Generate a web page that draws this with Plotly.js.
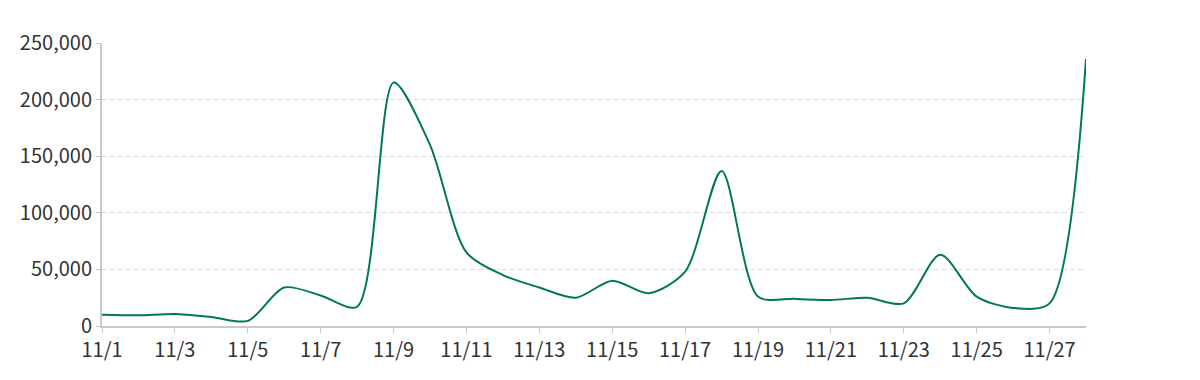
<!DOCTYPE html>
<html>
<head>
<meta charset="utf-8">
<script src="https://cdn.plot.ly/plotly-3.0.1.min.js"></script>
<style>
html,body{margin:0;padding:0;background:#fff;}
#chart{width:1200px;height:380px;}
</style>
</head>
<body>
<div id="chart"></div>
<script>
const dates = ['11/1','11/2','11/3','11/4','11/5','11/6','11/7','11/8','11/9','11/10',
  '11/11','11/12','11/13','11/14','11/15','11/16','11/17','11/18','11/19','11/20',
  '11/21','11/22','11/23','11/24','11/25','11/26','11/27','11/28'];
const values = [10000, 9500, 10600, 8000, 4500, 34000, 27000, 17000, 215000, 160000,
  65000, 45000, 34000, 25000, 40000, 29000, 48000, 137000, 26000, 24000,
  23000, 25000, 20000, 63000, 26000, 16000, 20000, 236000];
const tickLabels = dates.filter((d, i) => i % 2 === 0);
const yTicks = [0, 50000, 100000, 150000, 200000, 250000];

const trace = {
  x: dates,
  y: values,
  type: 'scatter',
  mode: 'lines',
  line: {color: '#00775f', width: 2, shape: 'spline', smoothing: 0.8},
  hoverinfo: 'x+y'
};

const font = {family: '"Noto Sans CJK JP", "Noto Sans", sans-serif', size: 20, color: '#333'};

const layout = {
  width: 1200, height: 380,
  margin: {l: 102, r: 114, t: 43, b: 54, pad: 0},
  paper_bgcolor: '#fff', plot_bgcolor: '#fff',
  showlegend: false,
  font: font,
  xaxis: {
    type: 'category',
    range: [0, 27],
    tickmode: 'array',
    tickvals: tickLabels,
    ticktext: tickLabels,
    showgrid: false,
    zeroline: false,
    showline: true,
    linecolor: '#c8c8c8',
    linewidth: 2,
    ticks: 'outside',
    ticklen: 5,
    tickwidth: 1,
    tickcolor: '#c8c8c8',
    tickfont: font,
    fixedrange: true
  },
  yaxis: {
    range: [0, 250000],
    tickmode: 'array',
    tickvals: yTicks,
    ticktext: yTicks.map(v => v.toLocaleString('en-US')),
    showgrid: true,
    gridcolor: '#dddddd',
    griddash: '5px,3px',
    gridwidth: 1,
    zeroline: false,
    showline: true,
    linecolor: '#c8c8c8',
    linewidth: 2,
    ticks: 'outside',
    ticklen: 4,
    tickwidth: 1,
    tickcolor: '#c8c8c8',
    tickfont: font,
    fixedrange: true
  }
};

Plotly.newPlot('chart', [trace], layout, {displayModeBar: false, staticPlot: true});
</script>
</body>
</html>
